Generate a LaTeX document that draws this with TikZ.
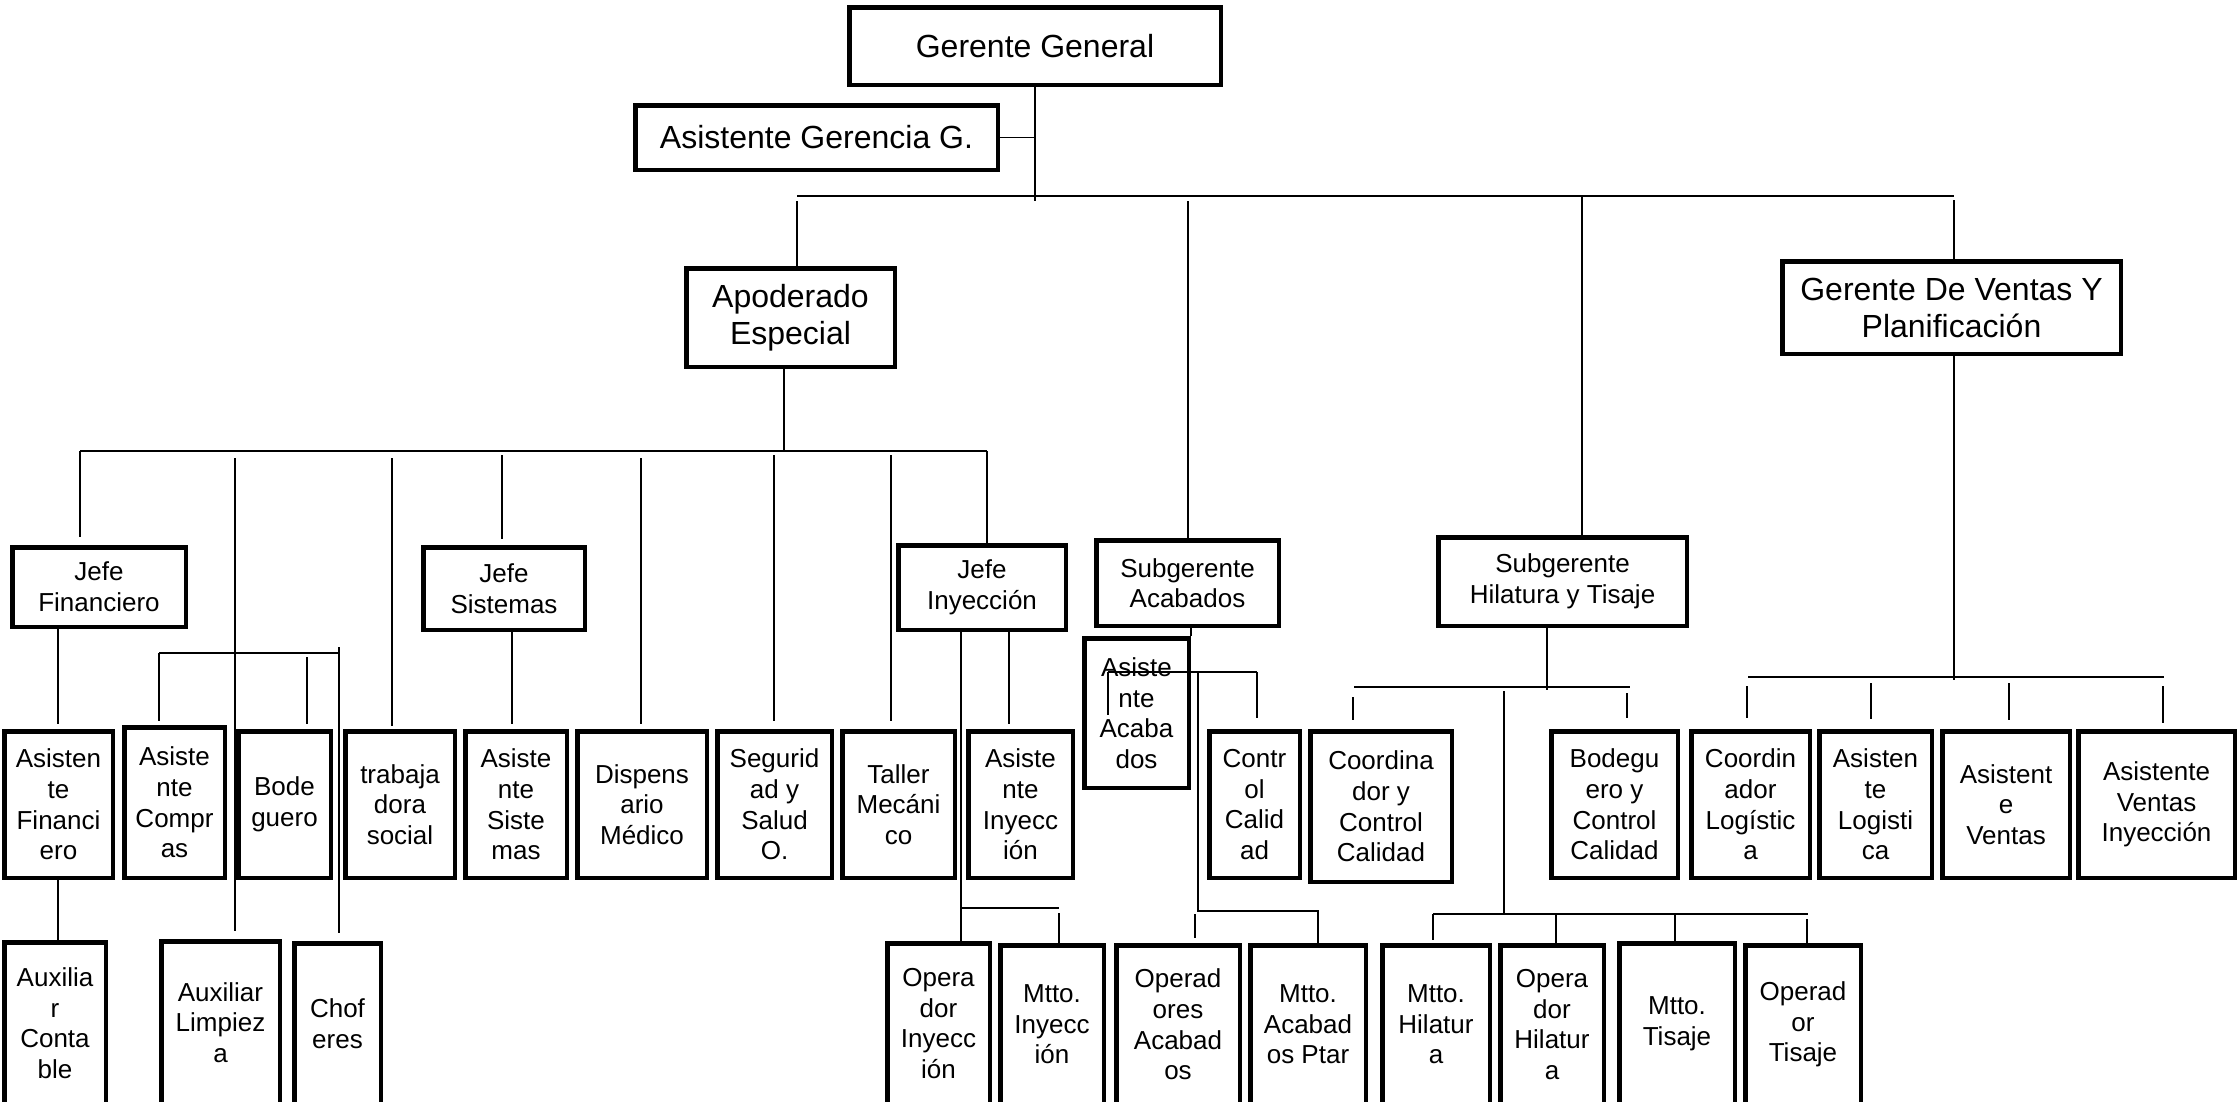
\documentclass[tikz,border=0pt]{standalone}
\usepackage{fontspec}
\setmainfont{Liberation Sans}
\tikzset{
  bx/.style={draw, line width=4.5pt, inner sep=0pt, align=center, font=\fontsize{26}{30.6}\selectfont},
  bigbx/.style={bx, font=\fontsize{32}{37}\selectfont},
  ln/.style={line width=1.8pt},
  gap/.style={shorten >=#1},
}
\newcommand\obox[7][bx]{\node[#1, minimum width={#5-#3-4.5}, minimum height={#6-#4-4.5}] (#2) at ({(#3+#5)/2},{(#4+#6)/2}) {#7};}
\begin{document}
\begin{tikzpicture}[x=1pt, y=-1pt]
\useasboundingbox (0,0) rectangle (2239,1101);
\fill[white] (0,0) rectangle (2239,1101);
\clip (0,0) rectangle (2239,1101);
% top level
\obox[bigbx]{gg}{847}{5}{1223}{87}{Gerente General}
\obox[bigbx]{agg}{633}{103}{1000}{172}{Asistente Gerencia G.}
\obox[bigbx]{apo}{684}{266}{897}{369}{Apoderado\\Especial}
\obox[bigbx]{gv}{1780}{259}{2123}{356}{Gerente De Ventas Y\\Planificación}
% row 2
\obox{jf}{10}{545}{188}{629}{Jefe\\Financiero}
\obox{js}{421}{545}{587}{632}{Jefe\\Sistemas}
\obox{ji}{896}{543}{1068}{632}{Jefe\\Inyección}
\obox{sa}{1094}{538}{1281}{628}{Subgerente\\Acabados}
\obox{sh}{1436}{535}{1689}{628}{Subgerente\\Hilatura y Tisaje}
% row 3
\obox{af}{2}{729}{115}{880}{Asisten\\te\\Financi\\ero}
\obox{acm}{122}{725}{227}{880}{Asiste\\nte\\Compr\\as}
\obox{bod}{236}{729}{333}{880}{Bode\\guero}
\obox{ts}{343}{729}{457}{880}{trabaja\\dora\\social}
\obox{asi}{463}{729}{569}{880}{Asiste\\nte\\Siste\\mas}
\obox{dm}{575}{729}{709}{880}{Dispens\\ario\\Médico}
\obox{sy}{715}{729}{834}{880}{Segurid\\ad y\\Salud\\O.}
\obox{tm}{840}{729}{957}{880}{Taller\\Mecáni\\co}
\obox{ainy}{966}{729}{1075}{880}{Asiste\\nte\\Inyecc\\ión}
\obox{aa}{1082}{636}{1191}{790}{Asiste\\nte\\Acaba\\dos}
\obox{cc}{1207}{729}{1302}{880}{Contr\\ol\\Calid\\ad}
\obox{ccc}{1308}{729}{1454}{884}{Coordina\\dor y\\Control\\Calidad}
\obox{bcc}{1549}{729}{1680}{880}{Bodegu\\ero y\\Control\\Calidad}
\obox{cl}{1689}{729}{1812}{880}{Coordin\\ador\\Logístic\\a}
\obox{alg}{1817}{729}{1934}{880}{Asisten\\te\\Logisti\\ca}
\obox{av}{1940}{729}{2072}{880}{Asistent\\e\\Ventas}
\obox{avi}{2076}{729}{2237}{880}{Asistente\\Ventas\\Inyección}
% row 4
\obox{ac}{2}{940}{108}{1106}{Auxilia\\r\\Conta\\ble}
\obox{al}{159}{939}{282}{1106}{Auxiliar\\Limpiez\\a}
\obox{ch}{292}{941}{383}{1106}{Chof\\eres}
\obox{oi}{885}{941}{992}{1106}{Opera\\dor\\Inyecc\\ión}
\obox{mi}{998}{943}{1106}{1106}{Mtto.\\Inyecc\\ión}
\obox{oa}{1114}{943}{1242}{1106}{Operad\\ores\\Acabad\\os}
\obox{map}{1248}{943}{1368}{1106}{Mtto.\\Acabad\\os Ptar}
\obox{mh}{1380}{943}{1492}{1106}{Mtto.\\Hilatur\\a}
\obox{oh}{1498}{943}{1606}{1106}{Opera\\dor\\Hilatur\\a}
\obox{mt}{1617}{941}{1737}{1106}{Mtto.\\Tisaje}
\obox{ot}{1743}{943}{1863}{1106}{Operad\\or\\Tisaje}
% top connectors
\coordinate (gg1) at (1035,201);
\draw[ln] (gg.south) -- (gg1);
\draw[ln] (agg.east) -- (agg.east -| gg1);
\coordinate (mbL) at (797,196);
\coordinate (mbR) at (1954,196);
\coordinate (mb2) at (1188,201);
\coordinate (mb3) at (1582,196);
\coordinate (mb1) at (797,201);
\coordinate (mb4) at (1954,200);
\draw[ln] (mbL) -- (mbR);
\draw[ln] (mb1) -- (apo.north -| mb1);
\draw[ln] (mb2) -- (sa.north -| mb2);
\draw[ln] (mb3) -- (sh.north -| mb3);
\draw[ln] (mb4) -- (gv.north -| mb4);
% apoderado
\coordinate (ab) at (784,451);
\coordinate (abL) at (80,451);
\coordinate (abR) at (987,451);
\coordinate (ab2) at (235,458);
\coordinate (ab3) at (392,458);
\coordinate (ab4) at (502,455);
\coordinate (ab5) at (641,458);
\coordinate (ab6) at (774,455);
\coordinate (ab7) at (891,455);
\draw[ln] (apo.south -| ab) -- (ab);
\draw[ln] (abL) -- (abR);
\draw[ln, gap=8pt] (abL) -- (jf.north -| abL);
\draw[ln, gap=8pt] (ab2) -- (al.north -| ab2);
\draw[ln, gap=3pt] (ab3) -- (ts.north -| ab3);
\draw[ln, gap=6pt] (ab4) -- (js.north -| ab4);
\draw[ln, gap=5pt] (ab5) -- (dm.north -| ab5);
\draw[ln, gap=8pt] (ab6) -- (sy.north -| ab6);
\draw[ln, gap=8pt] (ab7) -- (tm.north -| ab7);
\draw[ln] (abR) -- (ji.north -| abR);
% financiero
\coordinate (f1) at (58,0);
\draw[ln, gap=5pt] (jf.south -| f1) -- (af.north -| f1);
\draw[ln] (af.south -| f1) -- (ac.north -| f1);
\coordinate (cbL) at (159,653);
\coordinate (cbR) at (340,653);
\coordinate (cb2) at (307,657);
\coordinate (cb3) at (339,647);
\draw[ln] (cbL) -- (cbR);
\draw[ln, gap=4pt] (cbL) -- (acm.north -| cbL);
\draw[ln, gap=5pt] (cb2) -- (bod.north -| cb2);
\draw[ln, gap=8pt] (cb3) -- (ch.north -| cb3);
% sistemas
\coordinate (s1) at (512,0);
\draw[ln, gap=5pt] (js.south -| s1) -- (asi.north -| s1);
% inyeccion
\coordinate (i1) at (961,908);
\coordinate (i2) at (1059,908);
\coordinate (i2b) at (1059,913);
\coordinate (i3) at (1009,0);
\draw[ln] (ji.south -| i1) -- (oi.north -| i1);
\draw[ln] (i1) -- (i2);
\draw[ln] (i2b) -- (mi.north -| i2b);
\draw[ln, gap=5pt] (ji.south -| i3) -- (ainy.north -| i3);
% acabados
\coordinate (a0) at (1191,0);
\coordinate (a1) at (1108,672);
\coordinate (a1e) at (1108,715);
\coordinate (a2) at (1257,672);
\coordinate (a3) at (1198,672);
\coordinate (a4) at (1198,911);
\coordinate (a5) at (1318,911);
\coordinate (a6) at (1195,914);
\draw[ln] (sa.south -| a0) -- (aa.north -| a0);
\draw[ln] (a1) -- (a2);
\draw[ln] (a1) -- (a1e);
\draw[ln, gap=11pt] (a2) -- (cc.north -| a2);
\draw[ln] (a3) -- (a4) -- (a5) -- (map.north -| a5);
\draw[ln, gap=5pt] (a6) -- (oa.north -| a6);
% hilatura
\coordinate (h0) at (1547,690);
\coordinate (hL) at (1354,687);
\coordinate (hR) at (1630,687);
\coordinate (h1) at (1353,697);
\coordinate (h2) at (1627,693);
\coordinate (h3) at (1504,691);
\coordinate (h4) at (1504,914);
\coordinate (hbL) at (1433,914);
\coordinate (hbR) at (1808,914);
\coordinate (h5) at (1556,914);
\coordinate (h6) at (1675,914);
\coordinate (h7) at (1807,919);
\draw[ln] (sh.south -| h0) -- (h0);
\draw[ln] (hL) -- (hR);
\draw[ln, gap=9pt] (h1) -- (ccc.north -| h1);
\draw[ln, gap=11pt] (h2) -- (bcc.north -| h2);
\draw[ln] (h3) -- (h4);
\draw[ln] (hbL) -- (hbR);
\draw[ln, gap=3pt] (hbL) -- (mh.north -| hbL);
\draw[ln] (h5) -- (oh.north -| h5);
\draw[ln] (h6) -- (mt.north -| h6);
\draw[ln] (h7) -- (ot.north -| h7);
% ventas
\coordinate (v0) at (1954,680);
\coordinate (vL) at (1748,677);
\coordinate (vR) at (2164,677);
\coordinate (v1) at (1747,686);
\coordinate (v2) at (1871,683);
\coordinate (v3) at (2009,683);
\coordinate (v4) at (2163,686);
\draw[ln] (gv.south -| v0) -- (v0);
\draw[ln] (vL) -- (vR);
\draw[ln, gap=11pt] (v1) -- (cl.north -| v1);
\draw[ln, gap=10pt] (v2) -- (alg.north -| v2);
\draw[ln, gap=9pt] (v3) -- (av.north -| v3);
\draw[ln, gap=6pt] (v4) -- (avi.north -| v4);
\end{tikzpicture}
\end{document}
